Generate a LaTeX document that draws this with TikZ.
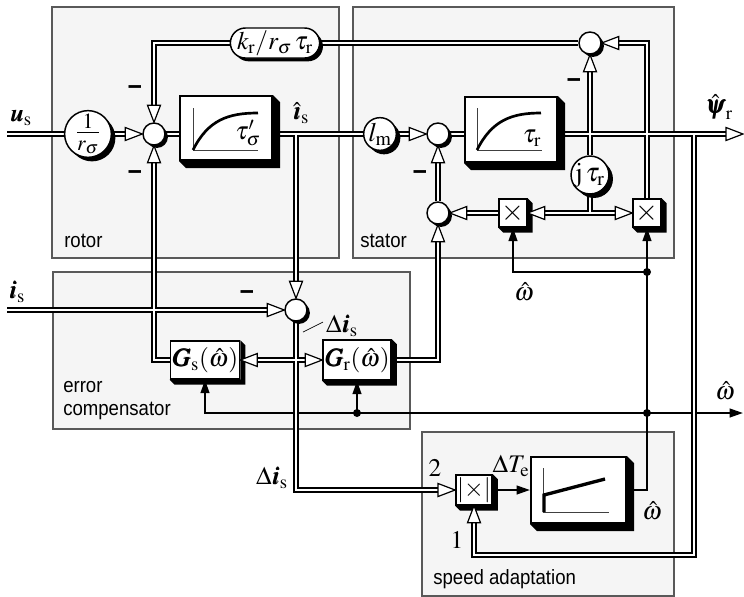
\documentclass[tikz,border=0pt]{standalone}
\usepackage{mathptmx}
\usepackage{fontspec}
\setmainfont{Liberation Serif}
\newfontfamily\labfont[FakeStretch=0.9]{Liberation Sans}
\usepackage{bm}
\usetikzlibrary{arrows.meta,shapes.misc,shadows,calc}
\pgfdeclarelayer{bg}
\pgfdeclarelayer{dblback}
\pgfdeclarelayer{dblfront}
\pgfdeclarelayer{shd}
\pgfdeclarelayer{arr}
\pgfsetlayers{bg,dblback,dblfront,shd,arr,main}
\tikzset{
  every node/.style={font=\fontsize{19pt}{21pt}\selectfont, inner sep=0pt},
  panel/.style={draw=black!65, line width=0.9pt, fill=black!4},
  ptxt/.style={font=\labfont\fontsize{15.5pt}{17pt}\selectfont, anchor=base west},
  sumj/.style={circle, draw, line width=1.1pt, fill=white, minimum size=16.5pt,
    drop shadow={shadow xshift=2.2pt, shadow yshift=-2.2pt, opacity=1, fill=black}},
  gain/.style={circle, draw, line width=1.1pt, fill=white,
    drop shadow={shadow xshift=3pt, shadow yshift=-3pt, opacity=1, fill=black}},
  blk/.style={rectangle, draw, line width=1.5pt, fill=white},
  sblk/.style={rectangle, draw, line width=1.1pt, fill=white, inner sep=1pt},
  dlo/.style={line width=3.8pt, line join=miter},
  dli/.style={line width=2pt, white, line join=miter},
  oah/.style={fill=white, draw=black, line width=0.9pt, line join=miter},
  sig/.style={line width=1.5pt, -{Triangle[length=10pt,width=6.5pt]}},
  sgl/.style={line width=1.5pt},
  mns/.style={font=\labfont\bfseries\fontsize{21pt}{22pt}\selectfont},
  axis/.style={line width=0.6pt, black!75},
  crv/.style={line width=2pt}
}
\newcommand\dl[2][]{%
  \begin{pgfonlayer}{dblback}\draw[dlo,#1] #2;\end{pgfonlayer}%
  \begin{pgfonlayer}{dblfront}\draw[dli,#1] #2;\end{pgfonlayer}}
\newcommand\oa[2]{%
  \begin{pgfonlayer}{arr}\filldraw[oah,shift={(#1)},rotate=#2] (0,0) -- (-17,6.5) -- (-17,-6.5) -- cycle;\end{pgfonlayer}}
\newcommand\shb[2]{%
  \begin{pgfonlayer}{shd}\fill (#1.north east) -- ++(#2,#2) -- ($(#1.south east)+(#2,#2)$) -- ($(#1.south west)+(#2,#2)$) -- (#1.south west) -- (#1.south east) -- cycle;\end{pgfonlayer}}
\begin{document}
\begin{tikzpicture}[x=0.75pt,y=-0.75pt]
\useasboundingbox (0,0) rectangle (744,597);
% panels
\begin{pgfonlayer}{bg}
\draw[panel] (52,7) rectangle (339,258);
\draw[panel] (353,7) rectangle (674,258);
\draw[panel] (53,272) rectangle (410,429);
\draw[panel] (422,432) rectangle (674,596);
\end{pgfonlayer}
\node[ptxt] (Lrotor) at (64,247) {rotor};
\node[ptxt] (Lstator) at (360,247) {stator};
\node[ptxt] (Lerr) at (63,392) {error};
\node[ptxt] (Lcomp) at (63,415) {compensator};
\node[ptxt] (Lspeed) at (433,584) {speed adaptation};
% nodes
\node[gain, minimum size=26pt, font=\fontsize{22pt}{24pt}\selectfont] (rs) at (88,134) {$\frac{1}{r_\sigma}$};
\node[sumj] (j1) at (154,134) {};
\node[blk, minimum width=69pt, minimum height=48pt] (ts) at (226,128) {}; \shb{ts}{7}
\node[gain, minimum size=24.5pt, font=\fontsize{20pt}{22pt}\selectfont] (lm) at (380,134) {$l_\mathrm{m}$};
\node[sumj] (j2) at (438,134) {};
\node[blk, minimum width=69pt, minimum height=48.75pt] (tr) at (511,129.5) {}; \shb{tr}{7}
\node[rounded rectangle, draw, line width=1.1pt, fill=white, minimum width=56pt, minimum height=22.5pt,
  drop shadow={shadow xshift=2.5pt, shadow yshift=-2.5pt, opacity=1, fill=black}] (kr) at (275,43) {$k_\mathrm{r}/r_\sigma\,\tau_\mathrm{r}$};
\node[sumj] (jt) at (590,43) {};
\node[gain, minimum size=27pt, font=\fontsize{20pt}{22pt}\selectfont] (jtr) at (590,175) {$\mathrm{j}\,\tau_\mathrm{r}$};
\node[sblk, minimum size=21pt, font=\fontsize{22pt}{24pt}\selectfont] (x1) at (513,213) {$\times$}; \shb{x1}{5}
\node[sblk, minimum size=21pt, font=\fontsize{22pt}{24pt}\selectfont] (x2) at (647,213) {$\times$}; \shb{x2}{5}
\node[sumj] (j3) at (438,213) {};
\node[sumj] (j4) at (296,310) {};
\node[sblk, minimum width=45pt, minimum height=28.5pt] (gs) at (205,360) {$\bm{G}_\mathrm{s}(\hat\omega)$}; \shb{gs}{5}
\node[sblk, minimum width=45.75pt, minimum height=30pt] (gr) at (357,360) {$\bm{G}_\mathrm{r}(\hat\omega)$}; \shb{gr}{5}
\node[sblk, minimum width=24pt, minimum height=22.5pt] (ax) at (474,490) {$|{\times}|$}; \shb{ax}{5}
\node[blk, minimum width=71.25pt, minimum height=49.5pt] (ig) at (578.5,490) {}; \shb{ig}{7}
% block graphics
\draw[axis] (193,108) -- (193,150) -- (258,150);
\draw[crv] (193,150) .. controls (208,120) and (228,113) .. (258,113);
\node (lts) at (248,133) {$\tau'_\sigma$};
\draw[axis] (477,108) -- (477,150) -- (542,150);
\draw[crv] (477,150) .. controls (492,120) and (512,113) .. (541,113);
\node (ltr) at (532,138) {$\tau_\mathrm{r}$};
\draw[axis] (543,468) -- (543,512) -- (609,512);
\draw[line width=2.5pt, line join=miter] (544,512) -- (544,495) -- (605,479);
% coordinates
\coordinate (usin) at (7,134);
\coordinate (isin) at (7,310);
\coordinate (psiout) at (743,134);
\coordinate (brP) at (694,134);
\coordinate (fb) at (694,555);
\coordinate (v) at (647,272);
\coordinate (w) at (647,413);
\coordinate (wout) at (743,413);
% double connectors
\dl{(usin) -- (rs.west)}
\dl[shorten >=12pt]{(rs.east) -- (j1.west)} \oa{j1.west}{0}
\dl{(j1.east) -- (j1 -| ts.west)}
\dl{(j1 -| ts.east) -- (lm.west)}
\dl[shorten >=12pt]{(j4 |- lm) -- (j4.north)} \oa{j4.north}{-90}
\dl[shorten >=12pt]{(lm.east) -- (j2.west)} \oa{j2.west}{0}
\dl{(j2.east) -- (j2 -| tr.west)}
\dl[shorten >=12pt]{(j2 -| tr.east) -- (psiout)} \oa{psiout}{0}
\dl[shorten >=12pt]{(brP) -- (fb) -| (ax.south)} \oa{ax.south}{90}
\dl{(jt.west) -- (kr.east)}
\dl[shorten >=12pt]{(kr.west) -| (j1.north)} \oa{j1.north}{-90}
\dl[shorten >=12pt]{(x2.north) |- (jt.east)} \oa{jt.east}{180}
\dl[shorten >=12pt]{(jtr.north) -- (jt.south)} \oa{jt.south}{90}
\dl{(jtr.south) -- (jtr.south |- x1)}
\dl[shorten >=12pt, shorten <=12pt]{(x1.east) -- (x2.west)} \oa{x1.east}{180} \oa{x2.west}{0}
\dl[shorten >=12pt]{(x1.west) -- (j3.east)} \oa{j3.east}{180}
\dl[shorten >=12pt]{(j3.north) -- (j2.south)} \oa{j2.south}{90}
\dl[shorten >=12pt]{(gr.east) -| (j3.south)} \oa{j3.south}{90}
\dl[shorten >=12pt]{(isin) -- (j4.west)} \oa{j4.west}{0}
\dl[shorten >=12pt]{(j4.south) |- (ax.west)} \oa{ax.west}{0}
\dl[shorten >=12pt, shorten <=12pt]{(gs.east) -- (gr.west)} \oa{gs.east}{180} \oa{gr.west}{0}
\dl[shorten >=12pt]{(gs.west) -| (j1.south)} \oa{j1.south}{90}
% signal lines
\begin{pgfonlayer}{dblback}
\draw[sig] (ig.east) -| (x2.south);
\draw[sig] (v) -| (x1.south);
\draw[sig] (w) -- (wout);
\draw[sig] (w) -| (gs.south);
\draw[sig] (gr.south |- w) -- (gr.south);
\draw[sig] (ax.east) -- (ig.west);
\fill (v) circle (3pt);
\fill (w) circle (3pt);
\fill (gr.south |- w) circle (3pt);
\end{pgfonlayer}
% minus signs
\node[mns] (m1) at (135,90) {–};
\node[mns] (m2) at (135,175) {–};
\node[mns] (m3) at (420,175) {–};
\node[mns] (m4) at (574,83) {–};
\node[mns] (m5) at (247,295) {–};
% labels
\node (Lus) at (21,118) {$\bm{u}_\mathrm{s}$};
\node (Lis) at (17,292) {$\bm{i}_\mathrm{s}$};
\node (Lish) at (301,113) {$\hat{\bm{\imath}}_\mathrm{s}$};
\node (Lpsi) at (719,107) {$\hat{\bm{\psi}}_\mathrm{r}$};
\node (Lw1) at (524,292) {$\hat\omega$};
\node (Lw2) at (725,391) {$\hat\omega$};
\node (Lw3) at (652,511) {$\hat\omega$};
\node (LdT) at (511,466) {$\Delta T_\mathrm{e}$};
\node (L2) at (435,468) {$2$};
\node (L1) at (457,540) {$1$};
\node (Ldi1) at (272,478) {$\Delta\bm{i}_\mathrm{s}$};
\node (Ldi2) at (342,326) {$\Delta\bm{i}_\mathrm{s}$};
\draw[line width=0.5pt] (303,332) -- (323,322);
\end{tikzpicture}
\end{document}
